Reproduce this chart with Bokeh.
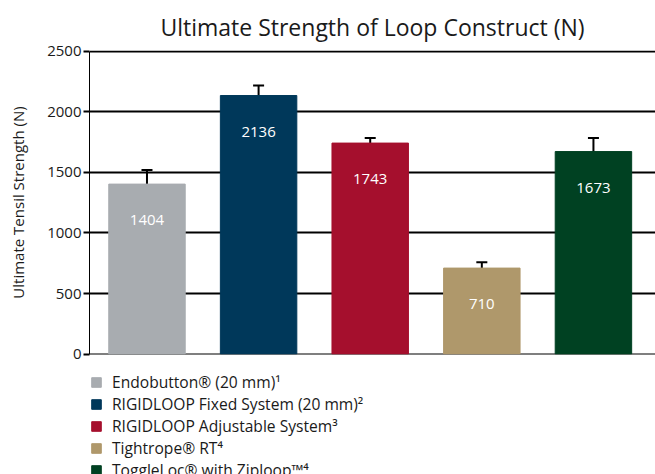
from bokeh.plotting import figure
from bokeh.layouts import column
from bokeh.models import (ColumnDataSource, Whisker, TeeHead, LabelSet, Legend,
                          LegendItem, FixedTicker, Range1d, Title)
from bokeh.core.properties import value
from bokeh.embed import file_html
from bokeh.resources import INLINE

# ---- data ----
labels = ["Endobutton® (20 mm)¹", "RIGIDLOOP Fixed System (20 mm)²",
          "RIGIDLOOP Adjustable System³", "Tightrope® RT⁴", "ToggleLoc® with Ziploop™⁴"]
values = [1404, 2136, 1743, 710, 1673]
err_upper = [1521, 2218, 1784, 758, 1784]
err_lower = [1278, 2025, 1679, 639, 1549]
colors = ["#A8ACB0", "#00385A", "#A50F2D", "#AF986B", "#004122"]
yticks = [0, 500, 1000, 1500, 2000, 2500]

FONT = "Open Sans"
TXT = "#1a1a1a"

src = ColumnDataSource(dict(
    x=list(range(len(values))), top=values, color=colors,
    upper=err_upper, lower=err_lower, txt=[str(v) for v in values]))

# ---------------- chart ----------------
p = figure(width=655, height=366, output_backend="svg", toolbar_location=None,
           x_range=Range1d(-0.515, 4.556), y_range=Range1d(-4, 2508),
           x_axis_location=None, min_border_left=89, min_border_right=0,
           min_border_top=50, min_border_bottom=12)
p.outline_line_color = None
p.background_fill_color = "white"
p.border_fill_color = "white"

p.title = Title(text="Ultimate Strength of Loop Construct (N)", align="center",
                text_font=FONT, text_font_size="23px",
                text_font_style="normal", text_color=TXT, standoff=16)

r = p.vbar(x="x", top="top", bottom=0, width=0.685, color="color", source=src)

w = Whisker(base="x", upper="upper", lower="lower", source=src,
            line_color="black", line_width=2,
            upper_head=TeeHead(size=11, line_width=2, line_color="black"),
            lower_head=TeeHead(size=11, line_width=2, line_color="black"))
p.add_layout(w)

ls = LabelSet(x="x", y="top", text="txt", source=src, y_offset=-36,
              text_align="center", text_baseline="middle", text_color="white",
              text_font=value(FONT), text_font_size=value("15px"))
p.add_layout(ls)

ax = p.yaxis[0]
ax.ticker = FixedTicker(ticks=yticks)
ax.bounds = (0, 2500)
ax.axis_label = "Ultimate Tensil Strength (N)"
ax.axis_label_text_font = FONT
ax.axis_label_text_font_size = "15px"
ax.axis_label_text_font_style = "normal"
ax.axis_label_text_color = TXT
ax.axis_label_standoff = 16
ax.major_label_text_font = FONT
ax.major_label_text_font_size = "15px"
ax.major_label_text_color = TXT
ax.major_label_standoff = 2
ax.major_tick_out = 6
ax.major_tick_in = 0
ax.major_tick_line_width = 2
ax.minor_tick_line_color = None
ax.axis_line_width = 1
ax.axis_line_color = "black"

p.xgrid.grid_line_color = None
p.ygrid.ticker = FixedTicker(ticks=yticks)
p.ygrid.grid_line_color = "black"
p.ygrid.grid_line_width = 2

# ---------------- legend strip below the chart ----------------
p2 = figure(width=655, height=108, output_backend="svg", toolbar_location=None,
            x_range=Range1d(-0.515, 4.556), y_range=Range1d(0, 1),
            x_axis_location=None, y_axis_location=None,
            min_border_left=89, min_border_right=0, min_border_top=0, min_border_bottom=0)
p2.outline_line_color = None
p2.grid.grid_line_color = None
p2.background_fill_color = "white"
p2.border_fill_color = "white"
r2 = p2.vbar(x="x", top="top", bottom=0, width=0.685, color="color", source=src)
r2.visible = False  # only used to supply the legend swatches

items = [LegendItem(label=labels[i], renderers=[r2], index=i) for i in range(len(labels))]
leg = Legend(items=items, location=(1, -7), orientation="vertical",
             glyph_width=12, glyph_height=12, label_text_font=FONT,
             label_text_font_size="15.6px", label_standoff=10, spacing=0,
             label_height=21, padding=0, margin=0, border_line_color=None,
             background_fill_alpha=0, label_text_color=TXT,
             inactive_fill_alpha=0)
p2.add_layout(leg)

layout = column(p, p2, spacing=0)
open("out.html", "w").write(file_html(layout, INLINE))
